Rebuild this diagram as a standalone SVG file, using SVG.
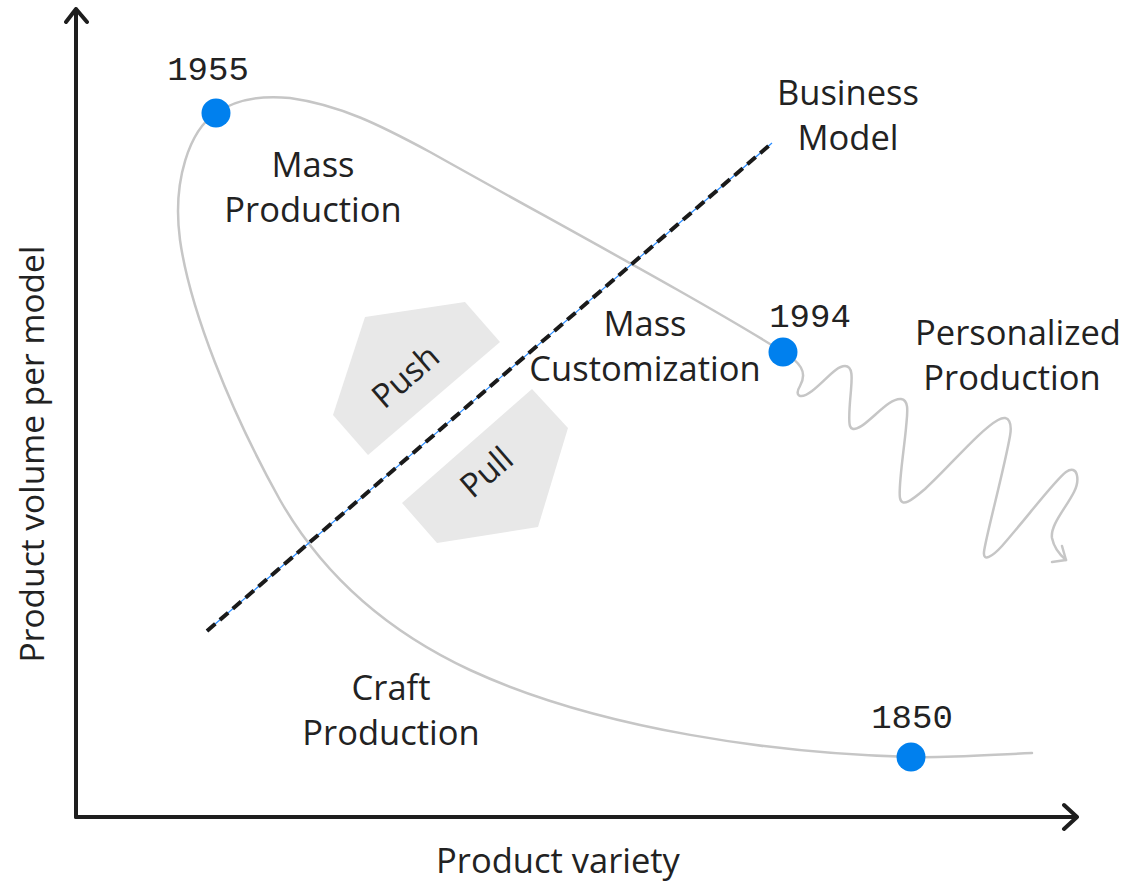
<svg xmlns="http://www.w3.org/2000/svg" width="1127" height="882" viewBox="0 0 1127 882">
<style>
.lbl{font-family:"Open Sans","Noto Sans",sans-serif;font-size:34.5px;fill:#222;text-anchor:middle}
.ax{font-family:"Open Sans","Noto Sans",sans-serif;font-size:34.5px;fill:#222;text-anchor:middle}
.yr{font-family:"Liberation Mono","DejaVu Sans Mono",monospace;font-size:34px;fill:#222;text-anchor:middle}
.pp{font-family:"Open Sans","Noto Sans",sans-serif;font-size:33px;fill:#222;text-anchor:middle}
.curve{fill:none;stroke:#c6c6c6;stroke-width:2.5;stroke-linecap:round;stroke-linejoin:round}
.axis{fill:none;stroke:#1e1e1e;stroke-width:4;stroke-linecap:round;stroke-linejoin:round}
.dot{fill:#0080ee}
.shape{fill:#e8e8e8}
</style>
<rect width="1127" height="882" fill="#fff"/>
<g id="axes">
<path class="axis" d="M76,817 L76,9 M66,22 L76,9 L87,22"/>
<path class="axis" d="M76,817 L1077,817 M1064,805 L1077,817 L1064,829"/>
<text class="ax" x="558" y="873">Product variety</text>
<text class="ax" style="font-size:33.5px" transform="translate(44,454) rotate(-90)">Product volume per model</text>
</g>
<g id="connectors">
<path id="lifecycle-curve" class="curve" d="M1032,753 C985,755 950,758 911,757 C780,754 600,730 470,670 C380,628 320,570 280,500 C230,410 190,310 180,240 C172,180 190,130 216,113 C235,100 260,95 290,98 C340,105 380,125 430,152 C560,225 700,300 783,352"/>
<path id="squiggle" class="curve" d="M783,352 C800,362 808,372 800,386 C794,396 800,400 812,391 C826,380 836,366 845,366 C853,366 852,378 851,390 C850,402 848,420 850,426 C852,432 860,428 868,421 C880,411 892,398 901,399 C910,400 907,415 906,428 C904,450 898,488 900,498 C902,508 912,500 925,489 C950,466 980,430 998,420 C1010,413 1012,425 1010,436 C1004,470 985,540 984,552 C983,562 992,557 1002,546 C1025,520 1055,480 1066,472 C1078,464 1080,480 1074,492 C1066,508 1050,525 1052,538 C1054,548 1060,555 1066,560"/>
<path class="curve" d="M1052,562 L1066,560 L1062,546"/>
<g id="business-model-line">
<line x1="207" y1="631" x2="772" y2="143" stroke="#2a8cff" stroke-width="1.2"/>
<line x1="207" y1="631" x2="772" y2="143" stroke="#1a1a1a" stroke-width="4" stroke-dasharray="11 6"/>
</g>
</g>
<g id="push">
<polygon class="shape" points="365,317 465,302 500,342 368,455 333,415"/>
<text class="pp" transform="translate(413,385) rotate(-41)">Push</text>
</g>
<g id="pull">
<polygon class="shape" points="532,389 568,428 538,527 437,543 402,503"/>
<text class="pp" transform="translate(494,481) rotate(-41)">Pull</text>
</g>
<g id="node-1955">
<circle class="dot" cx="216" cy="113" r="14.5"/>
<text class="yr" x="208" y="80">1955</text>
</g>
<g id="node-1994">
<circle class="dot" cx="783" cy="352" r="14.5"/>
<text class="yr" x="810" y="327">1994</text>
</g>
<g id="node-1850">
<circle class="dot" cx="911" cy="757" r="14.5"/>
<text class="yr" x="912" y="728">1850</text>
</g>
<g id="mass-production">
<text class="lbl" x="313" y="177">Mass</text>
<text class="lbl" x="313" y="222">Production</text>
</g>
<g id="business-model">
<text class="lbl" x="848" y="105">Business</text>
<text class="lbl" x="848" y="150">Model</text>
</g>
<g id="mass-customization">
<text class="lbl" x="645" y="336">Mass</text>
<text class="lbl" x="645" y="381">Customization</text>
</g>
<g id="personalized-production">
<text class="lbl" x="1018" y="345">Personalized</text>
<text class="lbl" x="1012" y="390">Production</text>
</g>
<g id="craft-production">
<text class="lbl" x="391" y="700">Craft</text>
<text class="lbl" x="391" y="745">Production</text>
</g>
</svg>
